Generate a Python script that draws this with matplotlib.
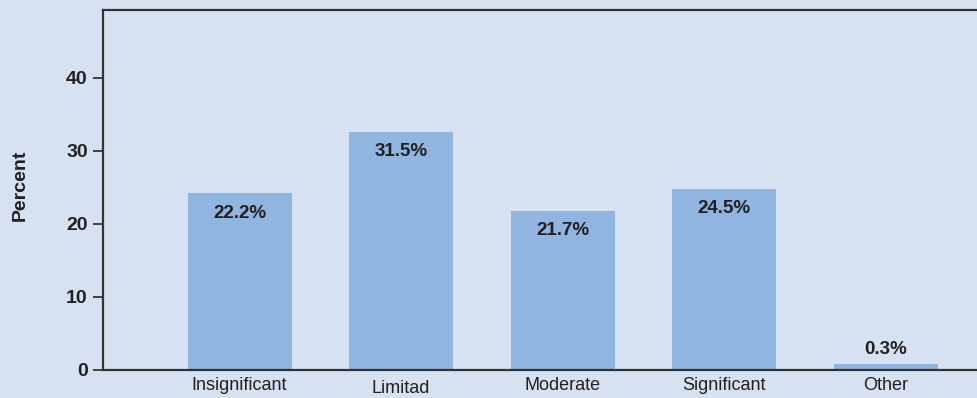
import matplotlib.pyplot as plt
import matplotlib.transforms as mtransforms

categories = ["Insignificant", "Limitad", "Moderate", "Significant", "Other"]
bar_heights = [24.2, 32.6, 21.8, 24.8, 0.8]
value_labels = ["22.2%", "31.5%", "21.7%", "24.5%", "0.3%"]
yticks = [0, 10, 20, 30, 40]

bg = "#d6e2f2"
bar_color = "#8fb5e0"
ink = "#231f20"

plt.rcParams["font.family"] = ["Liberation Sans", "DejaVu Sans"]

fig = plt.figure(figsize=(9.78, 3.98), dpi=100, facecolor=bg)
ax = fig.add_axes([0.1053, 0.0704, 0.8947, 0.9045])
ax.set_facecolor(bg)

x = list(range(len(categories)))
ax.bar(x, bar_heights, width=0.644, color=bar_color, zorder=2)

ax.set_xlim(-0.846, 4.572)
ax.set_ylim(0, 49.3)

for s in ["left", "bottom", "top"]:
    ax.spines[s].set_linewidth(1.6)
    ax.spines[s].set_color("#333333")
ax.spines["right"].set_visible(False)

ax.set_yticks(yticks)
ax.set_yticklabels([str(t) for t in yticks], fontsize=14, fontweight="bold", color=ink)
ax.tick_params(axis="y", length=7, width=1.3, color="#333333", pad=4)
ax.set_xticks([])

ax.set_ylabel("Percent", fontsize=14, fontweight="bold", color=ink)
ax.yaxis.set_label_coords(-0.085, 0.514)

# category labels under the axis ("Limitad" sits a bit lower in the original)
trans = mtransforms.blended_transform_factory(ax.transData, ax.transAxes)
for i, c in enumerate(categories):
    dy = -19 if c == "Limitad" else -16
    off = mtransforms.offset_copy(trans, fig=fig, y=dy, units="dots")
    ax.text(i, 0, c, transform=off, ha="center", va="center", fontsize=13, color=ink)

# value labels: inside the bar, or above it if the bar is tiny
for i, (h, lab) in enumerate(zip(bar_heights, value_labels)):
    if h > 5:
        off = mtransforms.offset_copy(ax.transData, fig=fig, y=-20, units="dots")
    else:
        off = mtransforms.offset_copy(ax.transData, fig=fig, y=15, units="dots")
    ax.text(i, h, lab, transform=off, ha="center", va="center",
            fontsize=13.5, fontweight="bold", color=ink, zorder=3)

fig.savefig("out.png", dpi=100, facecolor=bg)
